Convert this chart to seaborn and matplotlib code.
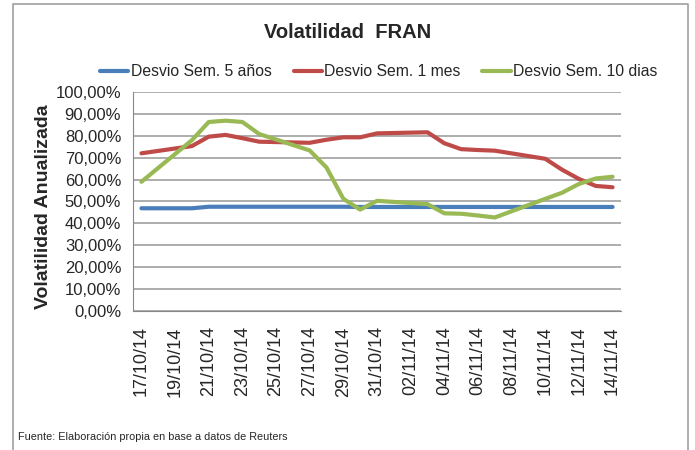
import numpy as np
import pandas as pd
import seaborn as sns
import matplotlib
matplotlib.use("Agg")
import matplotlib.pyplot as plt
from matplotlib.ticker import FuncFormatter
from matplotlib.lines import Line2D

# Trading days shown in the chart
dates = ["2014-10-17", "2014-10-20", "2014-10-21", "2014-10-22", "2014-10-23",
         "2014-10-24", "2014-10-27", "2014-10-28", "2014-10-29", "2014-10-30",
         "2014-10-31", "2014-11-03", "2014-11-04", "2014-11-05", "2014-11-06",
         "2014-11-07", "2014-11-10", "2014-11-11", "2014-11-12", "2014-11-13",
         "2014-11-14"]

# Volatility series (%)
desvio_5_anos = [46.9, 46.9, 47.6, 47.6, 47.6, 47.6, 47.6, 47.6, 47.6, 47.5, 47.5,
                 47.5, 47.5, 47.5, 47.5, 47.5, 47.5, 47.5, 47.5, 47.5, 47.5]
desvio_1_mes = [72.0, 75.3, 79.6, 80.4, 78.9, 77.3, 76.8, 78.2, 79.3, 79.3, 81.1,
                81.6, 76.6, 73.9, 73.5, 73.2, 69.5, 64.5, 60.3, 57.1, 56.5]
desvio_10_dias = [59.0, 78.0, 86.3, 86.9, 86.3, 80.8, 73.3, 65.5, 51.2, 46.3, 50.3,
                  48.8, 44.6, 44.4, 43.6, 42.7, 51.2, 54.0, 58.0, 60.5, 61.3]

series_names = ["Desvio Sem. 5 años", "Desvio Sem. 1 mes", "Desvio Sem. 10 dias"]
colors = ["#4A7EBB", "#BE4B48", "#98B954"]

# Build long-form table for seaborn
df = pd.DataFrame({
    "fecha": pd.to_datetime(dates * 3),
    "valor": desvio_5_anos + desvio_1_mes + desvio_10_dias,
    "serie": np.repeat(series_names, len(dates)),
})

sns.set_style("white")
plt.rcParams["font.family"] = ["Liberation Sans", "DejaVu Sans"]

fig = plt.figure(figsize=(6.95, 4.5), dpi=100)
ax = fig.add_axes([0.1914, 0.3089, 0.7021, 0.4867])

sns.lineplot(data=df, x="fecha", y="valor", hue="serie", palette=colors,
             linewidth=3, ax=ax)

# Axis limits and ticks
start = pd.Timestamp("2014-10-17")
ax.set_xlim(start - pd.Timedelta(hours=12), pd.Timestamp("2014-11-14") + pd.Timedelta(hours=12))
ax.set_ylim(0, 100)
ax.set_yticks(np.arange(0, 101, 10))
ax.yaxis.set_major_formatter(FuncFormatter(lambda v, p: f"{v:.2f}%".replace(".", ",")))

label_days = [start + pd.Timedelta(days=2 * i) for i in range(15)]
ax.set_xticks(label_days)
ax.set_xticklabels([d.strftime("%d/%m/%y") for d in label_days], rotation=90)
ax.set_xticks([d - pd.Timedelta(hours=12) for d in label_days], minor=True)
ax.tick_params(axis="x", which="major", length=0, pad=11, labelsize=13)
ax.tick_params(axis="x", which="minor", length=6, color="#888888", width=1)
ax.tick_params(axis="y", length=5, color="#888888", width=1, labelsize=12)

ax.grid(axis="y", color="#A0A0A0", linewidth=1.2)
ax.grid(axis="x", visible=False)
for s in ["top", "right"]:
    ax.spines[s].set_visible(False)
for s in ["left", "bottom"]:
    ax.spines[s].set_color("#888888")
ax.set_xlabel("")
ax.set_ylabel("")

handles, labels = ax.get_legend_handles_labels()
ax.get_legend().remove()
fig.legend(handles, labels, loc="center", bbox_to_anchor=(0.545, 0.84), ncol=3,
           frameon=False, fontsize=11.3, handlelength=1.8, handletextpad=0.15,
           columnspacing=1.4)

fig.text(0.5, 0.927, "Volatilidad  FRAN", ha="center", va="center",
         fontsize=14.5, fontweight="bold")
fig.text(0.063, 0.54, "Volatilidad Anualizada", ha="center", va="center",
         rotation=90, fontsize=14, fontweight="bold")
fig.text(0.026, 0.029, "Fuente: Elaboración propia en base a datos de Reuters",
         ha="left", va="center", fontsize=7.8)

# Chart border
fig.add_artist(Line2D([0.0187, 0.0187, 0.99, 0.99], [0.0, 0.991, 0.991, 0.0],
                      transform=fig.transFigure, color="#A0A0A0", linewidth=1.2))

fig.savefig("out.png", dpi=100)
